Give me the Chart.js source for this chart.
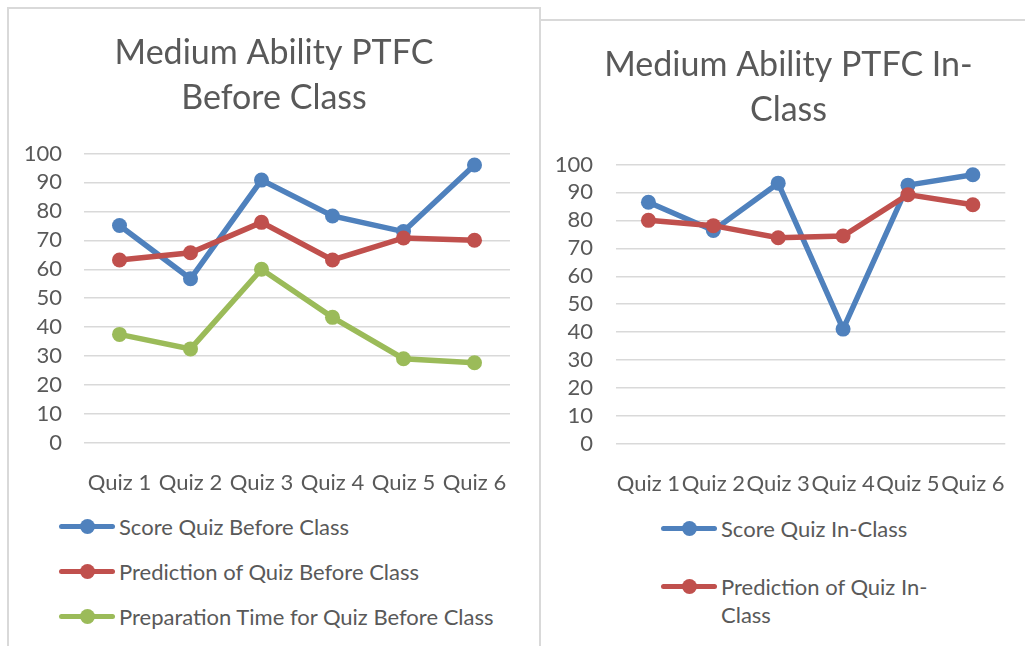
<!DOCTYPE html>
<html>
<head>
<meta charset="utf-8">
<script src="https://cdn.jsdelivr.net/npm/chart.js@4.4.1/dist/chart.umd.min.js"></script>
<style>
  body { margin:0; background:#fff; width:1025px; height:646px; overflow:hidden; position:relative; font-family:Lato, sans-serif; }
  .frame { position:absolute; border:2px solid #d9d9d9; box-sizing:border-box; background:#fff; }
  #frameA { left:7px; top:7px; width:534px; height:680px; }
  #frameB { left:539px; top:19px; width:520px; height:680px; }
  .box { position:absolute; }
  .legend { position:absolute; list-style:none; margin:0; padding:0; color:#595959; font-size:22px; line-height:28px; }
  .legend li { display:flex; align-items:flex-start; }
  .sym { position:relative; width:56px; height:28px; flex:none; margin-right:4px; }
  .sym .ln { position:absolute; left:0; right:0; top:11px; height:5px; border-radius:3px; }
  .sym .dot { position:absolute; left:21px; top:6px; width:15px; height:15px; border-radius:50%; }
  #legendA { left:59px; top:513px; }
  #legendA li { height:45px; }
  #legendB { left:661px; top:515px; }
  #legendB li { height:58px; }
  #legendB .txt { width:222px; }
</style>
</head>
<body>
<div class="frame" id="frameA"></div>
<div class="frame" id="frameB"></div>
<div class="box" style="left:9px;top:9px;width:530px;height:490px"><canvas id="chartA"></canvas></div>
<div class="box" style="left:552px;top:21px;width:473px;height:478px"><canvas id="chartB"></canvas></div>
<ul class="legend" id="legendA"></ul>
<ul class="legend" id="legendB"></ul>
<script>
// categories
const quizLabels = ['Quiz 1', 'Quiz 2', 'Quiz 3', 'Quiz 4', 'Quiz 5', 'Quiz 6'];

// before class
const scoreBefore = [75.1, 56.7, 90.8, 78.4, 73.0, 96.0];
const predictBefore = [63.2, 65.7, 76.2, 63.2, 70.8, 70.0];
const prepBefore = [37.5, 32.5, 60.0, 43.4, 29.1, 27.7];

// in class
const scoreIn = [86.5, 76.4, 93.3, 41.1, 92.6, 96.3];
const predictIn = [80.0, 78.1, 73.8, 74.4, 89.2, 85.6];

const yMin = 0, yMax = 100, yStep = 10;

const BLUE = '#4f81bd', RED = '#c0504d', GREEN = '#9bbb59', TXT = '#595959';

// html legend, one entry per row like excel
const htmlLegend = {
    id: 'htmlLegend',
    afterUpdate(chart, args, opts) {
        let ul = document.getElementById(opts.containerID);
        ul.innerHTML = '';
        let items = chart.options.plugins.legend.labels.generateLabels(chart);
        items.sort((a, b) => a.datasetIndex - b.datasetIndex);
        items.forEach(item => {
            let li = document.createElement('li');
            let sym = document.createElement('span');
            sym.className = 'sym';
            sym.innerHTML = '<span class="ln"></span><span class="dot"></span>';
            sym.firstChild.style.background = item.strokeStyle;
            sym.lastChild.style.background = item.strokeStyle;
            let txt = document.createElement('span');
            txt.className = 'txt';
            txt.textContent = item.text;
            li.appendChild(sym);
            li.appendChild(txt);
            ul.appendChild(li);
        });
    }
};

function line(label, data, color, order) {
    return {
        label: label,
        data: data,
        borderColor: color,
        backgroundColor: color,
        borderWidth: 5.5,
        pointRadius: 7.5,
        pointBorderWidth: 0,
        pointBackgroundColor: color,
        tension: 0,
        order: order
    };
}

// yW = left axis width, gapR = empty right axis so the title stays centred on the box
function makeChart(id, title, datasets, legendId, yW, gapR, axisH, tickPad, titlePad) {
    let ctx = document.getElementById(id).getContext('2d');
    return new Chart(ctx, {
        type: 'line',
        data: { labels: quizLabels, datasets: datasets },
        options: {
            responsive: true,
            maintainAspectRatio: false,
            animation: false,
            layout: { padding: 0 },
            plugins: {
                legend: { display: false },
                tooltip: { enabled: false },
                htmlLegend: { containerID: legendId },
                title: {
                    display: true,
                    text: title,
                    color: TXT,
                    font: { family: 'Lato', size: 34, weight: 'normal', lineHeight: 1.33 },
                    padding: titlePad
                }
            },
            scales: {
                x: {
                    offset: true,
                    grid: { display: false },
                    border: { display: false },
                    ticks: { color: TXT, font: { family: 'Lato', size: 22 }, padding: 19, autoSkip: false, maxRotation: 0, minRotation: 0 },
                    afterFit: s => { s.height = axisH; }
                },
                y: {
                    min: yMin,
                    max: yMax,
                    border: { display: false },
                    grid: { color: '#d9d9d9', lineWidth: 1.5, drawTicks: false },
                    ticks: { stepSize: yStep, autoSkip: false, color: TXT, font: { family: 'Lato', size: 22 }, padding: tickPad },
                    afterFit: s => { s.width = yW; }
                },
                gap: {
                    type: 'linear',
                    position: 'right',
                    grid: { display: false },
                    border: { display: false },
                    ticks: { display: false },
                    afterFit: s => { s.width = gapR; }
                }
            }
        },
        plugins: [htmlLegend]
    });
}

makeChart('chartA', ['Medium Ability PTFC', 'Before Class'], [
    line('Score Quiz Before Class', scoreBefore, BLUE, 3),
    line('Prediction of Quiz Before Class', predictBefore, RED, 2),
    line('Preparation Time for Quiz Before Class', prepBefore, GREEN, 1)
], 'legendA', 75, 29, 56, 22, { top: 21, bottom: 33 });

makeChart('chartB', ['Medium Ability PTFC In-', 'Class'], [
    line('Score Quiz In-Class', scoreIn, BLUE, 2),
    line('Prediction of Quiz In-Class', predictIn, RED, 1)
], 'legendB', 64, 18, 55, 23, { top: 21, bottom: 32 });
</script>
</body>
</html>
